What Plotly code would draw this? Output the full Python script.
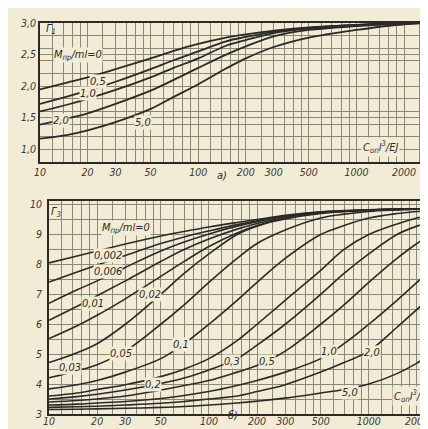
import math
import plotly.graph_objects as go

# ---------------- data ----------------
# upper chart (a): Г1 vs C_оп l^3/EJ for M_пр/ml
x_top = [10, 15, 20, 30, 50, 70, 100, 150, 200, 300, 500, 1000, 2000, 3000]
top_M = ["0", "0,5", "1,0", "2,0", "5,0"]
top_vals = {
    "0":   [1.95, 2.06, 2.14, 2.27, 2.44, 2.56, 2.67, 2.77, 2.82, 2.88, 2.93, 2.97, 3.00, 3.00],
    "0,5": [1.72, 1.84, 1.93, 2.07, 2.27, 2.41, 2.55, 2.71, 2.78, 2.86, 2.92, 2.97, 3.00, 3.00],
    "1,0": [1.60, 1.71, 1.80, 1.94, 2.14, 2.29, 2.44, 2.64, 2.73, 2.84, 2.91, 2.96, 3.00, 3.00],
    "2,0": [1.39, 1.49, 1.57, 1.72, 1.93, 2.10, 2.29, 2.50, 2.63, 2.79, 2.89, 2.95, 2.99, 3.00],
    "5,0": [1.17, 1.23, 1.30, 1.43, 1.64, 1.83, 2.03, 2.28, 2.44, 2.62, 2.77, 2.89, 2.98, 3.00],
}

# lower chart (б): Г3
x_bot = [10, 15, 20, 30, 50, 70, 100, 150, 200, 300, 500, 700, 1000, 1500, 2000, 2600]
bot_vals = {
    "0":     [8.05, 8.28, 8.45, 8.68, 8.95, 9.10, 9.25, 9.40, 9.50, 9.64, 9.76, 9.80, 9.83, 9.85, 9.86, 9.87],
    "0,002": [7.41, 7.75, 7.98, 8.30, 8.70, 8.92, 9.12, 9.33, 9.46, 9.62, 9.75, 9.79, 9.82, 9.85, 9.86, 9.87],
    "0,006": [6.70, 7.15, 7.45, 7.90, 8.45, 8.75, 9.02, 9.28, 9.43, 9.60, 9.74, 9.78, 9.82, 9.84, 9.86, 9.87],
    "0,01":  [6.13, 6.60, 6.95, 7.45, 8.10, 8.50, 8.85, 9.18, 9.37, 9.56, 9.72, 9.78, 9.82, 9.84, 9.86, 9.87],
    "0,02":  [5.52, 5.95, 6.30, 6.85, 7.60, 8.10, 8.60, 9.05, 9.30, 9.52, 9.70, 9.77, 9.81, 9.84, 9.86, 9.87],
    "0,03":  [4.72, 5.05, 5.35, 6.00, 7.00, 7.70, 8.35, 9.00, 9.28, 9.55, 9.72, 9.77, 9.81, 9.84, 9.86, 9.87],
    "0,05":  [4.21, 4.45, 4.65, 5.10, 6.00, 6.65, 7.40, 8.20, 8.70, 9.15, 9.55, 9.68, 9.77, 9.82, 9.85, 9.86],
    "0,1":   [3.84, 3.98, 4.12, 4.40, 4.85, 5.35, 6.00, 6.80, 7.40, 8.20, 9.00, 9.30, 9.55, 9.70, 9.77, 9.82],
    "0,2":   [3.60, 3.70, 3.82, 3.98, 4.25, 4.50, 4.85, 5.45, 6.00, 6.80, 7.80, 8.50, 9.00, 9.35, 9.55, 9.65],
    "0,3":   [3.50, 3.58, 3.66, 3.80, 4.02, 4.20, 4.47, 4.85, 5.30, 6.00, 7.00, 7.70, 8.35, 9.00, 9.28, 9.45],
    "0,5":   [3.40, 3.45, 3.50, 3.60, 3.80, 3.95, 4.12, 4.40, 4.62, 5.10, 6.00, 6.65, 7.40, 8.20, 8.70, 9.05],
    "1,0":   [3.30, 3.33, 3.37, 3.42, 3.52, 3.62, 3.75, 3.95, 4.12, 4.40, 4.85, 5.35, 6.00, 6.80, 7.40, 7.95],
    "2,0":   [3.22, 3.24, 3.26, 3.30, 3.36, 3.42, 3.50, 3.60, 3.75, 3.98, 4.40, 4.72, 5.10, 5.90, 6.50, 7.05],
    "5,0":   [3.15, 3.16, 3.17, 3.19, 3.22, 3.25, 3.30, 3.37, 3.43, 3.53, 3.70, 3.82, 4.00, 4.35, 4.70, 5.10],
}

x_tick_vals = [10, 20, 30, 50, 100, 200, 300, 500, 1000, 2000]
x_tick_text = ["10", "20", "30", "50", "100", "200", "300", "500", "1000", "2000"]
x_grid = [10, 12, 14, 16, 18, 20, 25, 30, 35, 40, 45, 50, 60, 70, 80, 90,
          100, 120, 140, 160, 180, 200, 250, 300, 350, 400, 450, 500, 600, 700, 800, 900,
          1000, 1200, 1400, 1600, 1800, 2000, 2500, 3000]
top_y_ticks = [1.0, 1.5, 2.0, 2.5, 3.0]
top_y_text = ["1,0", "1,5", "2,0", "2,5", "3,0"]
top_y_grid = [0.8, 1.0, 1.2, 1.4, 1.6, 1.8, 2.0, 2.2, 2.4, 2.6, 2.8, 3.0]
bot_y_ticks = [3, 4, 5, 6, 7, 8, 9, 10]
bot_y_text = ["3", "4", "5", "6", "7", "8", "9", "10"]
bot_y_grid = [3, 3.5, 4, 4.5, 5, 5.5, 6, 6.5, 7, 7.5, 8, 8.5, 9, 9.5, 10]

# label positions (data coords)
top_labels = [("M<sub>пр</sub>/ml=0", 17.5, 2.5), ("0,5", 23.3, 2.08), ("1,0", 20.0, 1.88),
              ("2,0", 13.6, 1.45), ("5,0", 45.0, 1.43)]
bot_labels = [("M<sub>пр</sub>/ml=0", 30.3, 9.22), ("0,002", 23.4, 8.30), ("0,006", 23.4, 7.75),
              ("0,01", 18.9, 6.68), ("0,02", 42.8, 6.99), ("0,03", 13.5, 4.54),
              ("0,05", 28.2, 5.02), ("0,1", 67.0, 5.33), ("0,2", 44.7, 3.99),
              ("0,3", 139.0, 4.76), ("0,5", 230.0, 4.76), ("1,0", 562.0, 5.08),
              ("2,0", 1040.0, 5.07), ("5,0", 760.0, 3.72)]

# ---------------- style ----------------
PAPER = "#f2ebd5"
INK = "#2b2a26"
GRID = "#8a877c"
FONT = "DejaVu Sans Condensed, Liberation Sans Narrow, DejaVu Sans, sans-serif"

fig = go.Figure()

for m in top_M:
    fig.add_trace(go.Scatter(x=x_top, y=top_vals[m], mode="lines", line=dict(color=INK, width=1.8, shape="spline"),
                             xaxis="x", yaxis="y", showlegend=False, hoverinfo="skip"))
for m, ys in bot_vals.items():
    fig.add_trace(go.Scatter(x=x_bot, y=ys, mode="lines", line=dict(color=INK, width=1.6, shape="spline"),
                             xaxis="x2", yaxis="y2", showlegend=False, hoverinfo="skip"))

tickfont = dict(family=FONT, size=10.5, color="#3a3934", style="italic")


def xaxis(domain, rng, anchor, standoff):
    return dict(type="log", domain=domain, range=rng, anchor=anchor,
                tickvals=x_tick_vals, ticktext=x_tick_text, tickfont=tickfont,
                showgrid=True, gridcolor=GRID, gridwidth=0.8, ticks="", ticklabelstandoff=standoff,
                minor=dict(tickvals=x_grid, showgrid=True, gridcolor=GRID, gridwidth=0.8, ticks=""),
                showline=True, linecolor=INK, linewidth=1.6, mirror=True,
                zeroline=False, automargin=False, fixedrange=True)


def yaxis(domain, rng, anchor, tv, tt, grid, standoff):
    return dict(domain=domain, range=rng, anchor=anchor,
                tickvals=tv, ticktext=tt, tickfont=tickfont,
                showgrid=True, gridcolor=GRID, gridwidth=0.8, ticks="", ticklabelstandoff=standoff,
                minor=dict(tickvals=grid, showgrid=True, gridcolor=GRID, gridwidth=0.8, ticks=""),
                showline=True, linecolor=INK, linewidth=1.6, mirror=True,
                zeroline=False, automargin=False, fixedrange=True)


W, H = 428, 429
fig.update_layout(
    width=W, height=H,
    margin=dict(l=0, r=0, t=0, b=0),
    paper_bgcolor=PAPER, plot_bgcolor=PAPER,
    template="none",
    xaxis=xaxis([32 / W, 426 / W], [1, 3.49], "y", 0),
    yaxis=yaxis([1 - 154 / H, 1 - 15 / H], [0.8, 3.0], "x", top_y_ticks, top_y_text, top_y_grid, 0),
    xaxis2=xaxis([41 / W, 1.0], [1, 3.42], "y2", -3),
    yaxis2=yaxis([1 - 406 / H, 1 - 193 / H], [3, 10.12], "x2", bot_y_ticks, bot_y_text, bot_y_grid, 3),
    font=dict(family=FONT, color=INK),
)

lab_font = dict(family=FONT, size=11, color=INK, style="italic")
ann = []
for t, x, y in top_labels:
    ann.append(dict(text=t, x=math.log10(x), y=y, xref="x", yref="y", showarrow=False,
                    font=lab_font, bgcolor=PAPER, borderpad=0))
for t, x, y in bot_labels:
    ann.append(dict(text=t, x=math.log10(x), y=y, xref="x2", yref="y2", showarrow=False,
                    font=lab_font, bgcolor=PAPER, borderpad=0))
ann += [
    dict(text="Г<sub>1</sub>", x=math.log10(11.8), y=2.9, xref="x", yref="y", showarrow=False, font=lab_font),
    dict(text="Г<sub>3</sub>", x=math.log10(11.0), y=9.75, xref="x2", yref="y2", showarrow=False, font=lab_font),
    dict(text="C<sub>оп</sub>l<sup>3</sup>/EJ", x=math.log10(1420), y=1.04, xref="x", yref="y", showarrow=False,
         font=lab_font, bgcolor=PAPER),
    dict(text="C<sub>оп</sub>l<sup>3</sup>/EJ", x=math.log10(1400), y=3.6, xref="x2", yref="y2", showarrow=False,
         font=lab_font, bgcolor=PAPER, xanchor="left"),
    dict(text="а)", x=214 / W, y=1 - 167 / H, xref="paper", yref="paper", showarrow=False, font=lab_font),
    dict(text="б)", x=225 / W, y=1 - 416 / H, xref="paper", yref="paper", showarrow=False, font=lab_font),
]
fig.update_layout(annotations=ann)

fig.write_html("out.html")
